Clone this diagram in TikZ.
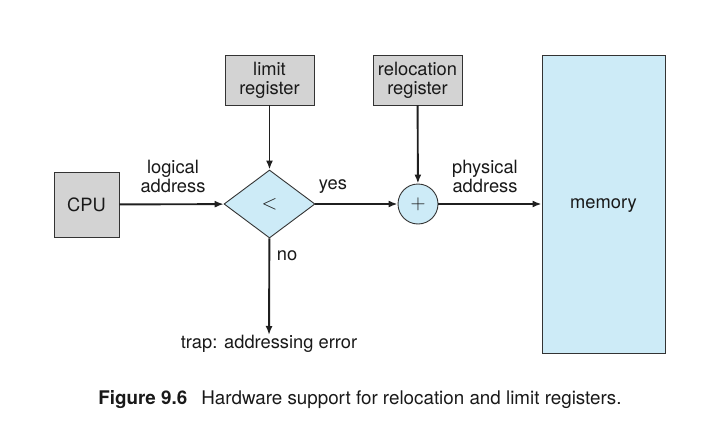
\documentclass[tikz,border=0pt]{standalone}
\usepackage{fontspec}
\setmainfont{TeX Gyre Heros}
\usetikzlibrary{shapes.geometric,arrows.meta}
\definecolor{boxgray}{RGB}{211,211,211}
\definecolor{boxblue}{RGB}{205,235,247}
\definecolor{edge}{RGB}{51,51,51}
\begin{document}
\begin{tikzpicture}[x=1pt,y=-1pt,
  every node/.style={font=\fontsize{18.3}{20}\selectfont, text=black!90},
  graybox/.style={draw=edge, line width=0.9pt, fill=boxgray, rectangle, inner sep=0pt, align=center},
  bluebox/.style={draw=edge, line width=0.9pt, fill=boxblue, inner sep=0pt},
  conn/.style={draw=black!88, line width=1.9pt, -{Latex[length=9pt,width=7pt]}},
  lbl/.style={align=center, inner sep=0pt}
]
\useasboundingbox (0,0) rectangle (713,434);
\node[graybox, minimum width=65pt, minimum height=65pt] (cpu) at (86.5,204.5) {CPU};
\node[graybox, minimum width=89pt, minimum height=50pt] (limit) at (269.5,80) {limit\\[-1pt]register};
\node[graybox, minimum width=89pt, minimum height=50pt] (reloc) at (417.5,80) {relocation\\[-1pt]register};
\node[bluebox, diamond, minimum width=91pt, minimum height=68pt] (cmp) at (269.5,204) {\fontsize{20}{20}\selectfont$<$};
\node[bluebox, circle, minimum size=40pt] (add) at (418,204) {\fontsize{20}{20}\selectfont$+$};
\node[bluebox, rectangle, minimum width=123pt, minimum height=298pt] (mem) at (603.5,204) {};
\node[lbl] (memtxt) at (603.5,206) {memory};
\node[lbl, anchor=north] (trap) at (269,335) {trap: addressing error};
\node[lbl] (logl) at (173,176) {logical\\[-1pt]address};
\node[lbl] (yes) at (333,187) {yes};
\node[lbl] (phys) at (485,176) {physical\\[-1pt]address};
\node[lbl] (no) at (287,256) {no};
\node[lbl] (cap) at (360,400) {\fontsize{18.8}{20}\selectfont\textbf{Figure 9.6}\hspace{14pt}Hardware support for relocation and limit registers.};
\draw[conn] (cpu) -- (cmp);
\draw[conn] (limit) -- (cmp);
\draw[conn] (cmp) -- (add);
\draw[conn] (reloc) -- (add);
\draw[conn] (add) -- (mem);
\draw[conn] (cmp) -- (trap);
\end{tikzpicture}
\end{document}
